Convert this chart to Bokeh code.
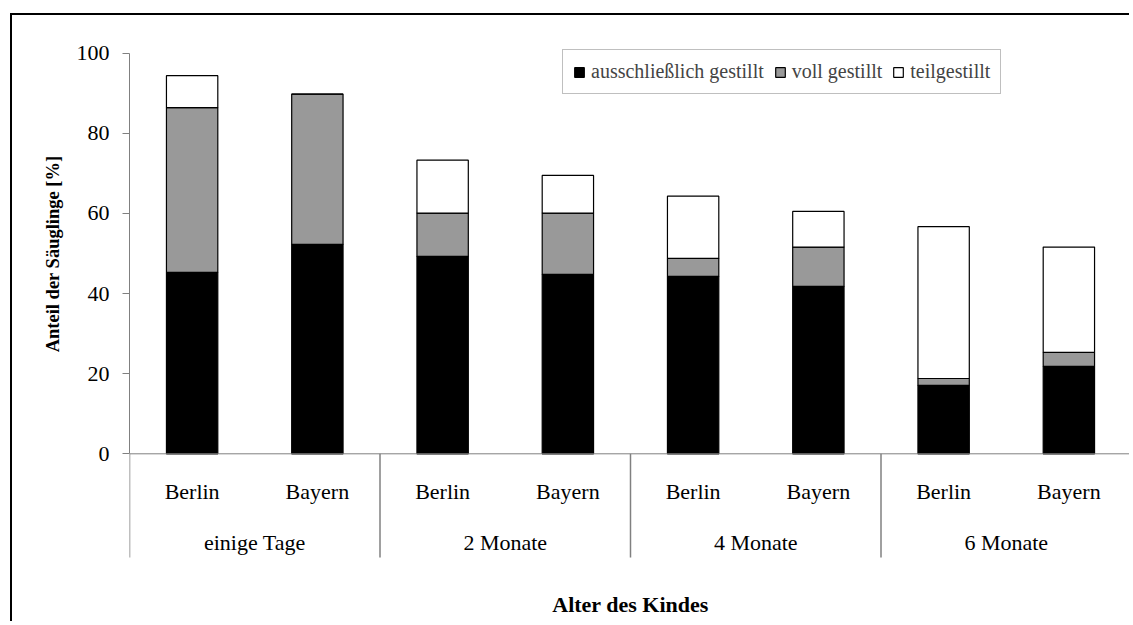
from bokeh.plotting import figure
from bokeh.models import (ColumnDataSource, FactorRange, Range1d, FixedTicker,
                          Span, Legend, LegendItem, Title)
from bokeh.core.properties import value
from bokeh.embed import file_html
from bokeh.resources import INLINE

# ---- data ----
groups = ["einige Tage", "2 Monate", "4 Monate", "6 Monate"]
regions = ["Berlin", "Bayern"]
ausschl = [45.3, 52.3, 49.3, 44.8, 44.3, 41.8, 17.1, 21.8]
voll = [41.1, 37.5, 10.8, 15.3, 4.5, 9.8, 1.7, 3.5]
teil = [8.0, 0.0, 13.2, 9.4, 15.5, 8.9, 37.9, 26.3]
series_names = ["ausschließlich gestillt", "voll gestillt", "teilgestillt"]
y_ticks = [0, 20, 40, 60, 80, 100]

factors = [(g, r) for g in groups for r in regions]

FONT = "'Liberation Serif', 'Times New Roman', 'DejaVu Serif', serif"
GRAY_LINE = "#808080"

x_range = FactorRange(*factors, factor_padding=0, group_padding=0,
                      subgroup_padding=0, range_padding=0)

p = figure(width=1119, height=608, x_range=x_range,
           y_range=Range1d(-42.36, 103.17),
           x_axis_location=None, output_backend="svg", toolbar_location=None,
           min_border_left=117, min_border_right=0, min_border_top=25,
           min_border_bottom=0,
           styles={"border-top": "2px solid black",
                   "border-left": "2px solid black",
                   "margin-left": "10px", "margin-top": "13px"})
p.outline_line_color = None
p.grid.visible = False
p.background_fill_color = "white"
p.border_fill_color = "white"

src = ColumnDataSource(dict(x=factors, a=ausschl, v=voll, t=teil))
rends = p.vbar_stack(["a", "v", "t"], x="x", width=0.41, source=src,
                     color=["black", "#999999", "white"],
                     line_color="black", line_width=1.2)

# y axis
ya = p.yaxis[0]
ya.bounds = (0, 100)
ya.ticker = FixedTicker(ticks=y_ticks)
ya.minor_tick_line_color = None
ya.major_tick_in = 0
ya.major_tick_out = 7
ya.axis_line_color = GRAY_LINE
ya.major_tick_line_color = GRAY_LINE
ya.major_label_text_font = FONT
ya.major_label_text_font_size = "22px"
ya.major_label_text_color = "black"
ya.major_label_standoff = 13

# y axis title, placed along the 0..100 span of the axis
p.add_layout(Title(text="Anteil der Säuglinge [%]", align="right", offset=115,
                   standoff=22, text_font=FONT, text_font_style="bold",
                   text_font_size="18.5px", text_color="black"), "left")

# x axis line at 0
p.add_layout(Span(location=0, dimension="width", line_color=GRAY_LINE, line_width=1))

# group separators
sep_x = [(g, "Berlin", -0.5) for g in groups] + [(groups[-1], "Bayern", 0.5)]
sep_src = ColumnDataSource(dict(x=sep_x, y0=[0] * len(sep_x), y1=[-25.89] * len(sep_x)))
p.segment(x0="x", y0="y0", x1="x", y1="y1", source=sep_src,
          line_color=GRAY_LINE, line_width=1.5)

# category labels
sub_src = ColumnDataSource(dict(x=factors, t=[f[1] for f in factors]))
p.text(x="x", y=-9.41, text="t", source=sub_src, text_font=value(FONT),
       text_font_size="22px", text_align="center", text_baseline="middle",
       text_color="black")
grp_src = ColumnDataSource(dict(x=groups, t=groups))
p.text(x="x", y=-22.14, text="t", source=grp_src, text_font=value(FONT),
       text_font_size="22px", text_align="center", text_baseline="middle",
       text_color="black")

# x axis title (centred on the middle of the category axis)
title_src = ColumnDataSource(dict(x=[(groups[1], regions[1], 0.5)], t=["Alter des Kindes"]))
p.text(x="x", y=-37.6, text="t", source=title_src, text_font=value(FONT),
       text_font_size="22px", text_font_style="bold", text_align="center",
       text_baseline="middle", text_color="black")

legend = Legend(items=[LegendItem(label=n, renderers=[r]) for n, r in zip(series_names, rends)],
                orientation="horizontal", location=(433, 529),
                label_text_font=FONT, label_text_font_size="20px",
                glyph_width=12, glyph_height=12, label_standoff=6, spacing=10,
                padding=10, border_line_color=GRAY_LINE, border_line_width=1,
                background_fill_color="white", background_fill_alpha=1,
                label_height=22)
p.add_layout(legend)

open("out.html", "w").write(file_html(p, INLINE))
